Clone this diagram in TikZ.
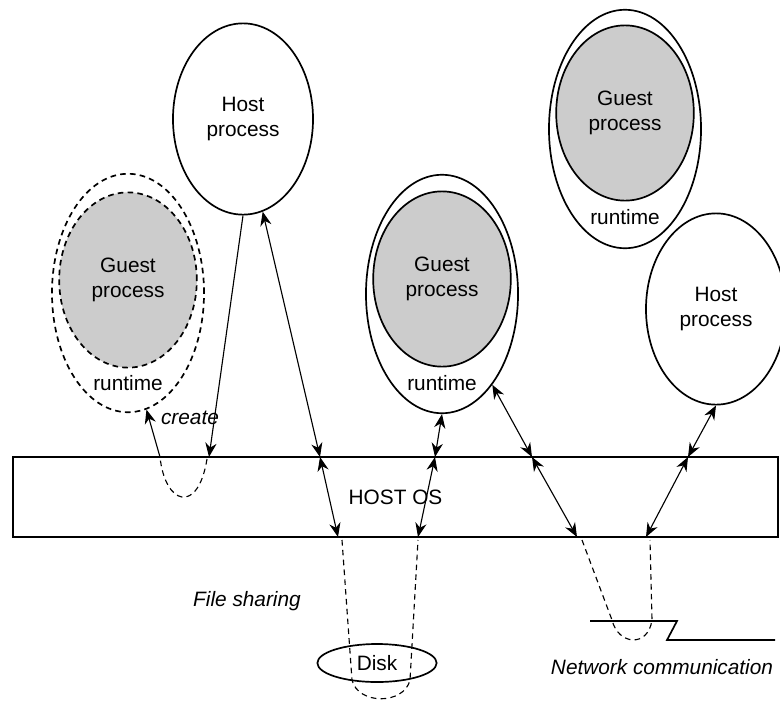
\documentclass[tikz,border=0pt]{standalone}
\usepackage{fontspec}
\setmainfont{Liberation Sans}
\usetikzlibrary{shapes.geometric, arrows.meta}

\begin{document}
\begin{tikzpicture}[
    x=0.025cm, y=-0.025cm,
    font=\fontsize{14.8}{17.5}\selectfont,
    oval/.style={ellipse, draw, line width=1.2pt, inner sep=0pt, align=center},
    hostproc/.style={oval, minimum width=3.5cm, minimum height=4.78cm},
    runtimebox/.style={oval, minimum width=3.8cm, minimum height=5.96cm},
    guestproc/.style={oval, fill=black!20, minimum width=3.44cm, minimum height=4.38cm},
    ghost/.style={dash pattern=on 4pt off 3pt},
    osbox/.style={rectangle, draw, line width=1.2pt, minimum width=19.125cm, minimum height=2cm},
    arr/.style={-{Stealth[length=10pt, width=8pt]}, line width=0.8pt},
    biarr/.style={{Stealth[length=10pt, width=8pt]}-{Stealth[length=10pt, width=8pt]}, line width=0.8pt},
    link/.style={line width=0.8pt, dash pattern=on 4pt off 3pt},
    lbl/.style={font=\fontsize{14.8}{17.5}\selectfont\itshape}
]
\useasboundingbox (0,0) rectangle (780,704);

% Processes
\node[hostproc] (hp1) at (243,119) {Host\\process};
\node[runtimebox, ghost] (rt1) at (128,293) {};
\node[guestproc, ghost] (gp1) at (128,280) {Guest\\process};
\node (rl1) at (128,383) {runtime};
\node[runtimebox] (rt2) at (442,294) {};
\node[guestproc] (gp2) at (442,279) {Guest\\process};
\node (rl2) at (442,383) {runtime};
\node[runtimebox] (rt3) at (625,129) {};
\node[guestproc] (gp3) at (625,113) {Guest\\process};
\node (rl3) at (625,217) {runtime};
\node[hostproc] (hp2) at (716,309) {Host\\process};

% Host OS and resources
\node[osbox] (os) at (395.5,497) {HOST OS};
\node[oval, minimum width=2.98cm, minimum height=0.95cm] (disk) at (377,663) {Disk};
\node[lbl] (create) at (190,418) {create};
\node[lbl] (share) at (247,601) {File sharing};
\node[lbl] (net) at (662,667) {Network communication};

% Points on the OS box
\coordinate (c0) at (160,457);
\coordinate (t1) at (209,457);
\coordinate (t2) at (320,457);
\coordinate (t3) at (435,457);
\coordinate (t4) at (532,457);
\coordinate (t5) at (688,457);
\coordinate (b1) at (338,537);
\coordinate (b2) at (418,537);
\coordinate (b3) at (577,537);
\coordinate (b4) at (646,537);

% Arrows
\draw[arr] (hp1.south) -- (t1);
\draw[arr] (c0) -- (rt1.-81);
\draw[biarr] (hp1.-78) -- (t2);
\draw[biarr] (t2) -- (b1);
\draw[biarr] (b2) -- (t3);
\draw[biarr] (t3) -- (rt2.south);
\draw[biarr] (rt2.-61) -- (t4);
\draw[biarr] (t4) -- (b3);
\draw[biarr] (hp2.south) -- (t5);
\draw[biarr] (t5) -- (b4);

% Dashed paths through the OS
\draw[link] (207,459) .. controls (198,515) and (165,505) .. (c0);
\draw[link] (342,540) -- (352,680) .. controls (358,705) and (404,705) .. (410,680) -- (418,540);
\draw[link] (582,540) -- (612,620) .. controls (618,645) and (648,648) .. (652,620) -- (650,540);

% Network line
\draw[line width=1.2pt] (590,621) -- (677,621) -- (667,640) -- (775,640);

\end{tikzpicture}
\end{document}
